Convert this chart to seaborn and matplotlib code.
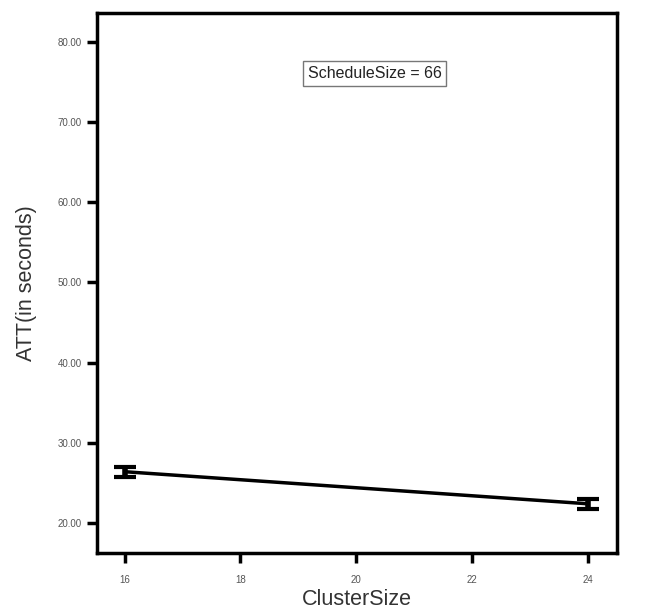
import matplotlib
matplotlib.use("Agg")
import matplotlib.pyplot as plt
import seaborn as sns
import pandas as pd
import numpy as np

cluster_size = [16, 24]
att_mean = [26.4, 22.4]
att_err = [0.6, 0.6]
x_ticks = [16, 18, 20, 22, 24]
y_ticks = [20, 30, 40, 50, 60, 70, 80]
annotation = "ScheduleSize = 66"

sns.set_theme(style="white")
plt.rcParams['font.family'] = ['Liberation Sans', 'DejaVu Sans']

df = pd.DataFrame({"ClusterSize": cluster_size, "ATT": att_mean, "err": att_err})

fig = plt.figure(figsize=(6.59, 6.10), dpi=100)
ax = fig.add_axes([0.147, 0.0934, 0.789, 0.8853])

sns.lineplot(data=df, x="ClusterSize", y="ATT", ax=ax, color="black", linewidth=2.5)
ax.errorbar(df["ClusterSize"], df["ATT"], yerr=df["err"], fmt="none",
            ecolor="black", elinewidth=4.0, capsize=8, capthick=3.0)

ax.set_xlim(15.52, 24.5)
ax.set_ylim(16.26, 83.6)
ax.set_xticks(x_ticks)
ax.set_xticklabels([str(t) for t in x_ticks])
ax.set_yticks(y_ticks)
ax.set_yticklabels([f"{t:.2f}" for t in y_ticks])

ax.tick_params(axis="both", which="major", direction="out", length=7, width=2.5,
               color="black", labelsize=7, labelcolor="#555555", bottom=True, left=True)
ax.tick_params(axis="y", pad=4)
ax.tick_params(axis="x", pad=9)

for side in ["left", "right", "top", "bottom"]:
    ax.spines[side].set_visible(True)
    ax.spines[side].set_color("black")
    ax.spines[side].set_linewidth(2.5)

ax.set_xlabel("ClusterSize", fontsize=15.5, color="#333333", labelpad=3)
ax.set_ylabel("ATT(in seconds)", fontsize=15.5, color="#333333", labelpad=15)

ax.text(0.534, 0.888, annotation, transform=ax.transAxes, ha="center", va="center",
        fontsize=11.5, color="#222222",
        bbox=dict(boxstyle="square,pad=0.3", facecolor="white", edgecolor="#777777", linewidth=1.0))

fig.savefig("out.png", dpi=100)
